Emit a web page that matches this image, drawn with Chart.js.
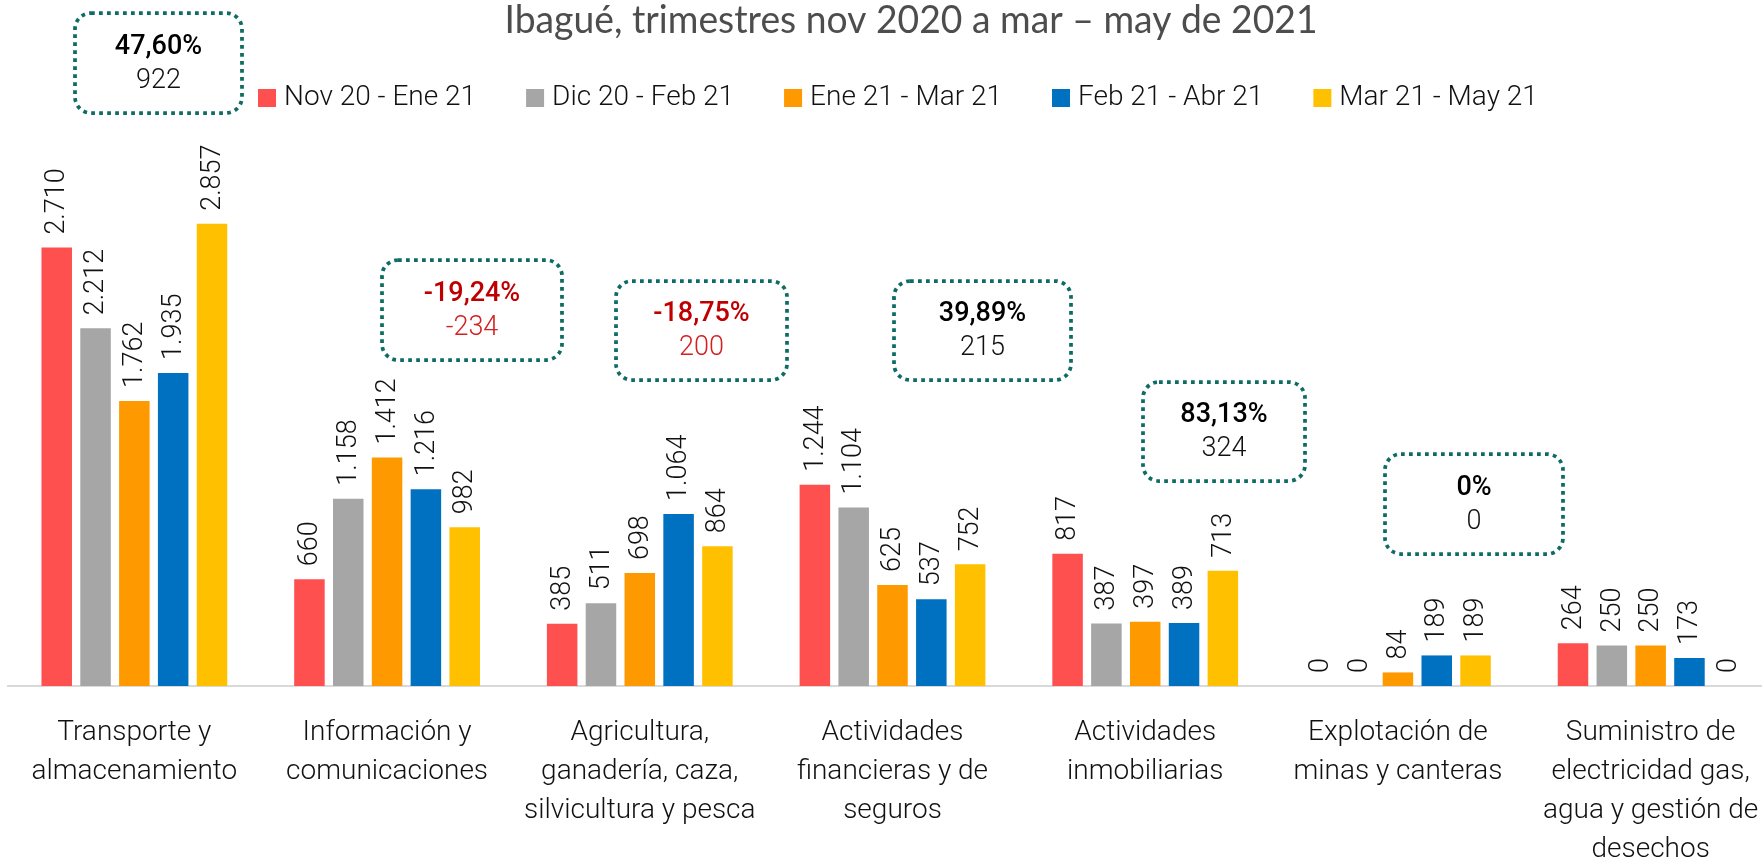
<!DOCTYPE html>
<html>
<head>
<meta charset="utf-8">
<script src="https://cdn.jsdelivr.net/npm/chart.js@4.4.1/dist/chart.umd.min.js"></script>
<style>
  html, body { margin: 0; padding: 0; background: #fff; overflow: hidden; }
  #wrap { position: relative; width: 1822px; height: 857px; }
</style>
</head>
<body>
<div id="wrap"><canvas id="chart"></canvas></div>
<script>
const titleText = 'Ibagué, trimestres nov 2020 a mar – may de 2021';

const categories = [
    ['Transporte y', 'almacenamiento'],
    ['Información y', 'comunicaciones'],
    ['Agricultura,', 'ganadería, caza,', 'silvicultura y pesca'],
    ['Actividades', 'financieras y de', 'seguros'],
    ['Actividades', 'inmobiliarias'],
    ['Explotación de', 'minas y canteras'],
    ['Suministro de', 'electricidad gas,', 'agua y gestión de', 'desechos']
];

const seriesNames = ['Nov 20 - Ene 21', 'Dic 20 - Feb 21', 'Ene 21 - Mar 21', 'Feb 21 - Abr 21', 'Mar 21 - May 21'];
const nov20Ene21 = [2710, 660, 385, 1244, 817, 0, 264];
const dic20Feb21 = [2212, 1158, 511, 1104, 387, 0, 250];
const ene21Mar21 = [1762, 1412, 698, 625, 397, 84, 250];
const feb21Abr21 = [1935, 1216, 1064, 537, 389, 189, 173];
const mar21May21 = [2857, 982, 864, 752, 713, 189, 0];
const seriesColors = ['#FF5050', '#A6A6A6', '#FF9900', '#0070C0', '#FFC000'];

// variation call-outs (percentage, difference), one per category except the last
const notePct = ['47,60%', '-19,24%', '-18,75%', '39,89%', '83,13%', '0%'];
const noteDiff = ['922', '-234', '200', '215', '324', '0'];
const noteNegative = [false, true, true, false, false, false];

// where the call-out boxes sit (pixels)
const noteBoxes = [
    { x: 75, y: 13, w: 167, h: 100 },
    { x: 382, y: 260, w: 180, h: 100 },
    { x: 616, y: 281, w: 171, h: 99 },
    { x: 894, y: 281, w: 177, h: 99 },
    { x: 1143, y: 382, w: 162, h: 99 },
    { x: 1385, y: 454, w: 178, h: 100 }
];

const fmt = v => String(v).replace(/\B(?=(\d{3})+(?!\d))/g, '.');

const decorPlugin = {
    id: 'decor',
    afterDatasetsDraw(chart) {
        const ctx = chart.ctx;
        ctx.save();
        ctx.font = '300 27px Roboto';
        ctx.fillStyle = '#111';
        ctx.textAlign = 'left';
        ctx.textBaseline = 'middle';
        chart.data.datasets.forEach((ds, i) => {
            chart.getDatasetMeta(i).data.forEach((bar, j) => {
                ctx.save();
                ctx.translate(bar.x + 1, bar.y - 13);
                ctx.rotate(-Math.PI / 2);
                ctx.fillText(fmt(ds.data[j]), 0, 0);
                ctx.restore();
            });
        });
        ctx.restore();
    },
    afterDraw(chart) {
        const ctx = chart.ctx;
        ctx.save();

        // title
        ctx.font = '38px Lato';
        ctx.fillStyle = '#4d4d4d';
        ctx.textAlign = 'center';
        ctx.textBaseline = 'alphabetic';
        ctx.fillText(titleText, 911, 33, 813);

        // legend
        ctx.font = '300 28px Roboto';
        ctx.textAlign = 'left';
        ctx.textBaseline = 'middle';
        let lx = 258;
        seriesNames.forEach((name, i) => {
            ctx.fillStyle = seriesColors[i];
            ctx.fillRect(lx, 89, 18, 18);
            ctx.fillStyle = '#111';
            ctx.fillText(name, lx + 26, 98);
            lx += 26 + ctx.measureText(name).width + 50;
        });

        // call-out boxes
        noteBoxes.forEach((b, i) => {
            ctx.beginPath();
            ctx.roundRect(b.x, b.y, b.w, b.h, 16);
            ctx.lineWidth = 3.75;
            ctx.setLineDash([3.75, 4.25]);
            ctx.strokeStyle = '#0f6b65';
            ctx.stroke();
            ctx.setLineDash([]);
            const cx = b.x + b.w / 2, cy = b.y + b.h / 2;
            ctx.textAlign = 'center';
            ctx.textBaseline = 'middle';
            ctx.font = '500 27px Roboto';
            ctx.fillStyle = noteNegative[i] ? '#C00000' : '#000';
            ctx.fillText(notePct[i], cx, cy - 16);
            ctx.font = '300 27px Roboto';
            ctx.fillStyle = noteNegative[i] ? '#D42020' : '#111';
            ctx.fillText(noteDiff[i], cx, cy + 18);
        });
        ctx.restore();
    }
};

const seriesData = [nov20Ene21, dic20Feb21, ene21Mar21, feb21Abr21, mar21May21];

new Chart(document.getElementById('chart'), {
    type: 'bar',
    data: {
        labels: categories,
        datasets: seriesNames.map((name, i) => ({
            label: name,
            data: seriesData[i],
            backgroundColor: seriesColors[i],
            borderWidth: 0,
            categoryPercentage: 0.768,
            barPercentage: 0.786
        }))
    },
    options: {
        responsive: true,
        maintainAspectRatio: false,
        animation: false,
        layout: { padding: { left: 8, right: 45, top: 136, bottom: 0 } },
        plugins: {
            legend: { display: false },
            title: { display: false },
            tooltip: { enabled: false }
        },
        scales: {
            x: {
                grid: { display: false, drawTicks: false },
                border: { display: true, color: '#d9d9d9', width: 2 },
                ticks: {
                    color: '#111',
                    padding: 27,
                    maxRotation: 0,
                    autoSkip: false,
                    font: { family: 'Roboto', size: 28, weight: '300', lineHeight: 1.4 }
                },
                afterFit(scale) { scale.height = 171; }
            },
            y: {
                display: false,
                min: 0,
                max: 3400
            }
        }
    },
    plugins: [decorPlugin]
});
</script>
</body>
</html>
